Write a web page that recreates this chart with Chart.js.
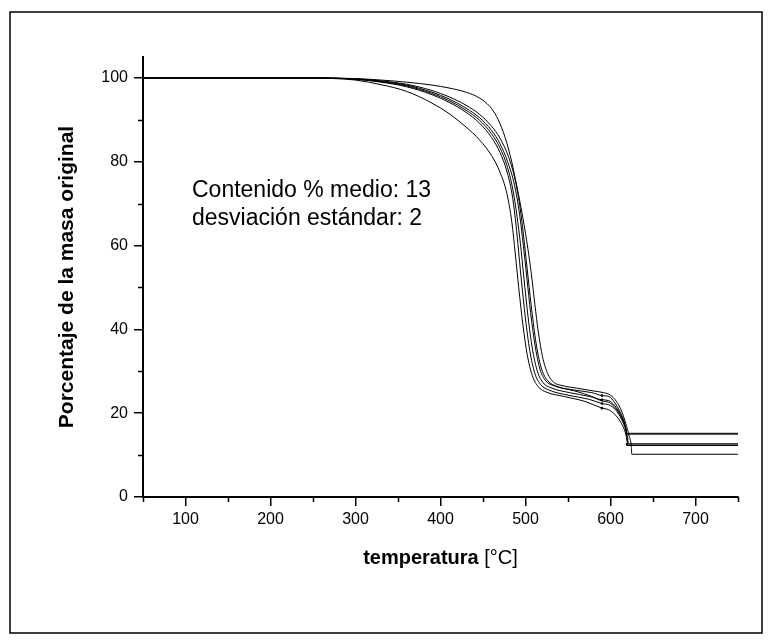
<!DOCTYPE html>
<html>
<head>
<meta charset="utf-8">
<title>TGA</title>
<script src="https://cdn.jsdelivr.net/npm/chart.js@4/dist/chart.umd.min.js"></script>
<style>
  html, body { margin: 0; padding: 0; background: #fff; }
  #wrap { width: 773px; height: 644px; position: relative; }
</style>
</head>
<body>
<div id="wrap"><canvas id="tga"></canvas></div>
<script>
// Thermogravimetric curves, six samples: temperature [°C] vs remaining mass [%]
const t1 = [50, 250, 280, 300, 330, 360, 390, 410, 430, 446, 460, 470, 478, 484, 488, 492, 497, 502, 508, 515, 525, 545, 570, 590, 598, 606, 613, 618, 620, 619, 750];
const m1 = [100, 100, 99.8, 99.5, 98.4, 96.8, 94.0, 91.5, 88.3, 85.2, 81.5, 77.5, 72.5, 65.5, 58, 50, 41, 34, 29, 26.3, 25, 24, 22.8, 21.2, 20.8, 19.5, 17.5, 15, 13, 12.3, 12.3];

const t2 = [50, 250, 280, 300, 330, 360, 390, 410, 430, 446, 460, 470, 478, 484, 488, 491, 495, 500, 505, 511, 518, 528, 550, 575, 590, 598, 606, 613, 618, 620.5, 620, 618, 750];
const m2 = [100, 100, 99.9, 99.7, 99.0, 97.9, 96.0, 94.2, 91.8, 89.2, 85.8, 82.2, 77.8, 72.5, 66.5, 60.5, 52, 42.5, 35, 29.5, 26.8, 25.5, 24.3, 23.3, 22.3, 22, 20.8, 18.5, 16, 14, 13, 12.7, 12.7];

const t3 = [50, 250, 280, 300, 330, 360, 390, 410, 430, 446, 460, 470, 478, 485, 490, 494, 498, 503, 508, 514, 521, 531, 552, 575, 590, 598, 605, 612, 617, 619, 618, 750];
const m3 = [100, 100, 99.9, 99.7, 99.1, 98.1, 96.3, 94.6, 92.3, 89.9, 86.7, 83.3, 79.2, 73.5, 67, 60.5, 52.5, 43, 35.5, 30, 27.2, 26, 24.9, 24, 23.2, 23, 21.8, 19.5, 17, 15.5, 15.0, 15.0];

const t4 = [50, 250, 280, 300, 330, 360, 390, 410, 430, 446, 460, 470, 479, 487, 493, 497.5, 501.5, 506, 511, 517, 524, 534, 555, 578, 590, 598, 605, 612, 617, 619, 618.5, 750];
const m4 = [100, 100, 99.9, 99.75, 99.2, 98.3, 96.6, 95, 92.8, 90.5, 87.5, 84.3, 80, 74.5, 67.5, 60, 52.5, 44, 36.5, 30.5, 27.7, 26.5, 25.6, 24.9, 24.2, 24, 22.5, 20, 17.5, 16, 15.2, 15.2];

const t5 = [50, 250, 280, 300, 330, 360, 390, 410, 430, 446, 460, 470, 480, 488, 494, 499, 503, 508, 513, 519, 526, 537, 558, 578, 590, 598, 606, 613, 618, 621, 619, 750];
const m5 = [100, 100, 99.9, 99.8, 99.3, 98.5, 97, 95.5, 93.5, 91.3, 88.5, 85.6, 81.2, 75.5, 68.5, 60, 52.5, 43.5, 36, 30.5, 27.8, 26.4, 25.3, 24, 22.9, 22.6, 21.2, 19, 16.3, 13, 12.4, 12.4];

const t6 = [50, 250, 280, 300, 330, 360, 390, 410, 430, 446, 458, 466, 474, 482, 490, 497, 503, 507, 511, 515, 520, 526, 533, 543, 560, 580, 592, 600, 607, 613, 618, 622, 624.5, 625, 750];
const m6 = [100, 100, 99.95, 99.85, 99.5, 99, 98.3, 97.6, 96.6, 95.2, 93.2, 90.8, 87, 81.5, 74, 66.5, 59, 53, 46, 39.5, 33.5, 29.5, 27.4, 26.6, 26, 25.3, 24.9, 24.3, 22.8, 20.5, 17.5, 14.5, 12, 10.2, 10.2];

const samples = [[t1, m1], [t2, m2], [t3, m3], [t4, m4], [t5, m5], [t6, m6]];
// small marker left on the plateau of the first four runs
const markT = 590;
const markedRuns = [0, 1, 2, 3];

const xMajor = [100, 200, 300, 400, 500, 600, 700];
const xMinor = [50, 150, 250, 350, 450, 550, 650, 750];
const yMajor = [0, 20, 40, 60, 80, 100];
const yMinor = [10, 30, 50, 70, 90];

const noteLines = ['Contenido % medio: 13', 'desviación estándar: 2'];

const FONT = '"Liberation Sans", Arial, Helvetica, sans-serif';

// frame, minor ticks, axis titles and the note
const decor = {
    id: 'decor',
    beforeDraw(chart) {
        const ctx = chart.ctx;
        ctx.save();
        ctx.fillStyle = '#fff';
        ctx.fillRect(0, 0, chart.width, chart.height);
        ctx.strokeStyle = '#000';
        ctx.lineWidth = 1.5;
        ctx.strokeRect(10, 12, 752, 621);
        ctx.restore();
    },
    afterDraw(chart) {
        const { ctx, chartArea: ca, scales: { x, y } } = chart;
        ctx.save();
        ctx.strokeStyle = '#000';
        ctx.lineWidth = 1.5;
        ctx.beginPath();
        xMinor.forEach(v => {
            const px = Math.round(x.getPixelForValue(v)) + 0.5;
            ctx.moveTo(px, ca.bottom);
            ctx.lineTo(px, ca.bottom + 5);
        });
        yMinor.forEach(v => {
            const py = Math.round(y.getPixelForValue(v)) + 0.5;
            ctx.moveTo(ca.left - 5, py);
            ctx.lineTo(ca.left, py);
        });
        ctx.stroke();

        ctx.fillStyle = '#000';
        // y title
        ctx.save();
        ctx.translate(73, (ca.top + ca.bottom) / 2);
        ctx.rotate(-Math.PI / 2);
        ctx.font = 'bold 21px ' + FONT;
        ctx.textAlign = 'center';
        ctx.textBaseline = 'alphabetic';
        ctx.fillText('Porcentaje de la masa original', 0, 0);
        ctx.restore();

        // x title: bold word + plain unit
        const bold = 'temperatura';
        const unit = ' [°C]';
        ctx.font = 'bold 20px ' + FONT;
        const wb = ctx.measureText(bold).width;
        ctx.font = '20px ' + FONT;
        const wu = ctx.measureText(unit).width;
        const x0 = (ca.left + ca.right) / 2 - (wb + wu) / 2;
        ctx.textAlign = 'left';
        ctx.textBaseline = 'alphabetic';
        ctx.font = 'bold 20px ' + FONT;
        ctx.fillText(bold, x0, 564);
        ctx.font = '20px ' + FONT;
        ctx.fillText(unit, x0 + wb, 564);

        // note
        ctx.font = '23px ' + FONT;
        noteLines.forEach((s, i) => ctx.fillText(s, 192, 197 + i * 28));
        ctx.restore();
    }
};

const datasets = samples.map(([t, m], k) => ({
    data: t.map((v, i) => ({ x: v, y: m[i] })),
    showLine: true,
    borderColor: '#000',
    backgroundColor: '#000',
    borderWidth: 1,
    pointRadius: c => (markedRuns.includes(k) && c.raw && c.raw.x === markT) ? 1.3 : 0,
    pointBorderWidth: 0,
    cubicInterpolationMode: 'monotone',
    fill: false
}));

new Chart(document.getElementById('tga'), {
    type: 'scatter',
    data: { datasets },
    options: {
        responsive: true,
        maintainAspectRatio: false,
        animation: false,
        events: [],
        layout: { padding: { left: 0, top: 57, right: 35, bottom: 97 } },
        plugins: { legend: { display: false }, tooltip: { enabled: false } },
        scales: {
            x: {
                type: 'linear',
                min: 50,
                max: 750,
                afterBuildTicks: s => { s.ticks = xMajor.map(v => ({ value: v })); },
                afterFit: s => { s.height = 50; },
                grid: { drawOnChartArea: false, drawTicks: true, tickLength: 9, color: '#000', lineWidth: 1.5 },
                border: { display: true, color: '#000', width: 2 },
                ticks: { color: '#000', font: { family: FONT, size: 16 }, padding: 4, maxRotation: 0 }
            },
            y: {
                type: 'linear',
                min: 0,
                max: 105,
                afterBuildTicks: s => { s.ticks = yMajor.map(v => ({ value: v })); },
                afterFit: s => { s.width = 143; },
                grid: { drawOnChartArea: false, drawTicks: true, tickLength: 9, color: '#000', lineWidth: 1.5 },
                border: { display: true, color: '#000', width: 2 },
                ticks: { color: '#000', font: { family: FONT, size: 16 }, padding: 6 }
            }
        }
    },
    plugins: [decor]
});
</script>
</body>
</html>
